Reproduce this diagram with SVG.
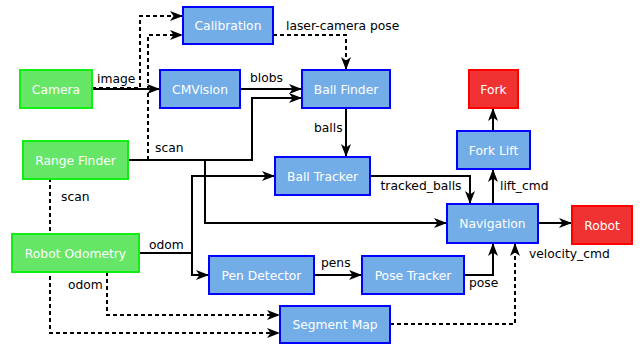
<svg xmlns="http://www.w3.org/2000/svg" width="640" height="345" viewBox="0 0 640 345">
<defs>
<marker id="ah" viewBox="0 0 13 10" refX="13" refY="5" markerWidth="13" markerHeight="10" markerUnits="userSpaceOnUse" orient="auto">
<path d="M0,0 L13,5 L0,10 L3.5,5 z" fill="#000"/>
</marker>
<style>
.e{fill:none;stroke:#000;stroke-width:2}
.d{stroke-dasharray:4,3}
.a{marker-end:url(#ah)}
.lbl{font-family:"DejaVu Sans",sans-serif;font-size:12.3px;fill:#000}
.blue rect{fill:#73ade8;stroke:#0000ff;stroke-width:2}
.green rect{fill:#66e666;stroke:#11ee11;stroke-width:2}
.red rect{fill:#f03232;stroke:#ff0000;stroke-width:2}
.n text{font-family:"DejaVu Sans",sans-serif;font-size:12.3px;fill:#fff;text-anchor:middle}
</style>
</defs>
<rect width="640" height="345" fill="#fff"/>
<g id="connectors">
<path class="e" d="M92,89 H160" marker-end="url(#ah)"/>
<path class="e d a" d="M92,88 H140 V16 H183"/>
<path class="e d a" d="M148,160 V35 H183"/>
<path class="e d a" d="M273,35 H346 V70"/>
<path class="e a" d="M240,89 H302"/>
<path class="e a" d="M128,160 H252 V98 H302"/>
<path class="e a" d="M205,160 V223 H447"/>
<path class="e a" d="M346,108 V157"/>
<path class="e a" d="M370,176 H470 V204"/>
<path class="e a" d="M493,204 V169"/>
<path class="e a" d="M493,131 V108"/>
<path class="e a" d="M538,223 H572"/>
<path class="e d a" d="M50,178 V333 H280"/>
<path class="e d a" d="M107,272 V315 H280"/>
<path class="e" d="M139,253 H192"/>
<path class="e a" d="M192,253 V176 H275"/>
<path class="e a" d="M192,253 V275 H209"/>
<path class="e a" d="M314,275 H362"/>
<path class="e a" d="M464,275 H493 V243"/>
<path class="e d a" d="M390,324 H515 V243"/>
<text class="lbl" x="97" y="83">image</text>
<text class="lbl" x="286" y="29.5">laser-camera pose</text>
<text class="lbl" x="250" y="82">blobs</text>
<text class="lbl" x="155" y="152">scan</text>
<text class="lbl" x="314" y="132">balls</text>
<text class="lbl" x="380.5" y="189.5">tracked_balls</text>
<text class="lbl" x="500" y="189.5">lift_cmd</text>
<text class="lbl" x="529" y="258">velocity_cmd</text>
<text class="lbl" x="469" y="287">pose</text>
<text class="lbl" x="321" y="267">pens</text>
<text class="lbl" x="149" y="249">odom</text>
<text class="lbl" x="68" y="289">odom</text>
<text class="lbl" x="61" y="201">scan</text>
</g>
<g id="camera" class="n green"><rect x="20" y="70" width="72" height="38"/><text x="56" y="93.5">Camera</text></g>
<g id="range-finder" class="n green"><rect x="23" y="141" width="105" height="38"/><text x="75.5" y="164.5">Range Finder</text></g>
<g id="robot-odometry" class="n green"><rect x="12" y="234" width="127" height="38"/><text x="75.5" y="257.5">Robot Odometry</text></g>
<g id="calibration" class="n blue"><rect x="183" y="7" width="90" height="37"/><text x="228" y="30">Calibration</text></g>
<g id="cmvision" class="n blue"><rect x="160" y="70" width="80" height="38"/><text x="200" y="93.5">CMVision</text></g>
<g id="ball-finder" class="n blue"><rect x="302" y="70" width="88" height="38"/><text x="346" y="93.5">Ball Finder</text></g>
<g id="ball-tracker" class="n blue"><rect x="275" y="157" width="95" height="38"/><text x="322.5" y="180.5">Ball Tracker</text></g>
<g id="navigation" class="n blue"><rect x="447" y="204" width="91" height="39"/><text x="492.5" y="228">Navigation</text></g>
<g id="fork-lift" class="n blue"><rect x="457" y="131" width="73" height="38"/><text x="493.5" y="154.5">Fork Lift</text></g>
<g id="pen-detector" class="n blue"><rect x="209" y="256" width="105" height="38"/><text x="261.5" y="279.5">Pen Detector</text></g>
<g id="pose-tracker" class="n blue"><rect x="362" y="256" width="102" height="38"/><text x="413" y="279.5">Pose Tracker</text></g>
<g id="segment-map" class="n blue"><rect x="280" y="306" width="110" height="37"/><text x="335" y="329">Segment Map</text></g>
<g id="fork" class="n red"><rect x="469" y="70" width="49" height="38"/><text x="493.5" y="93.5">Fork</text></g>
<g id="robot" class="n red"><rect x="572" y="206" width="60" height="38"/><text x="602" y="229.5">Robot</text></g>
</svg>
